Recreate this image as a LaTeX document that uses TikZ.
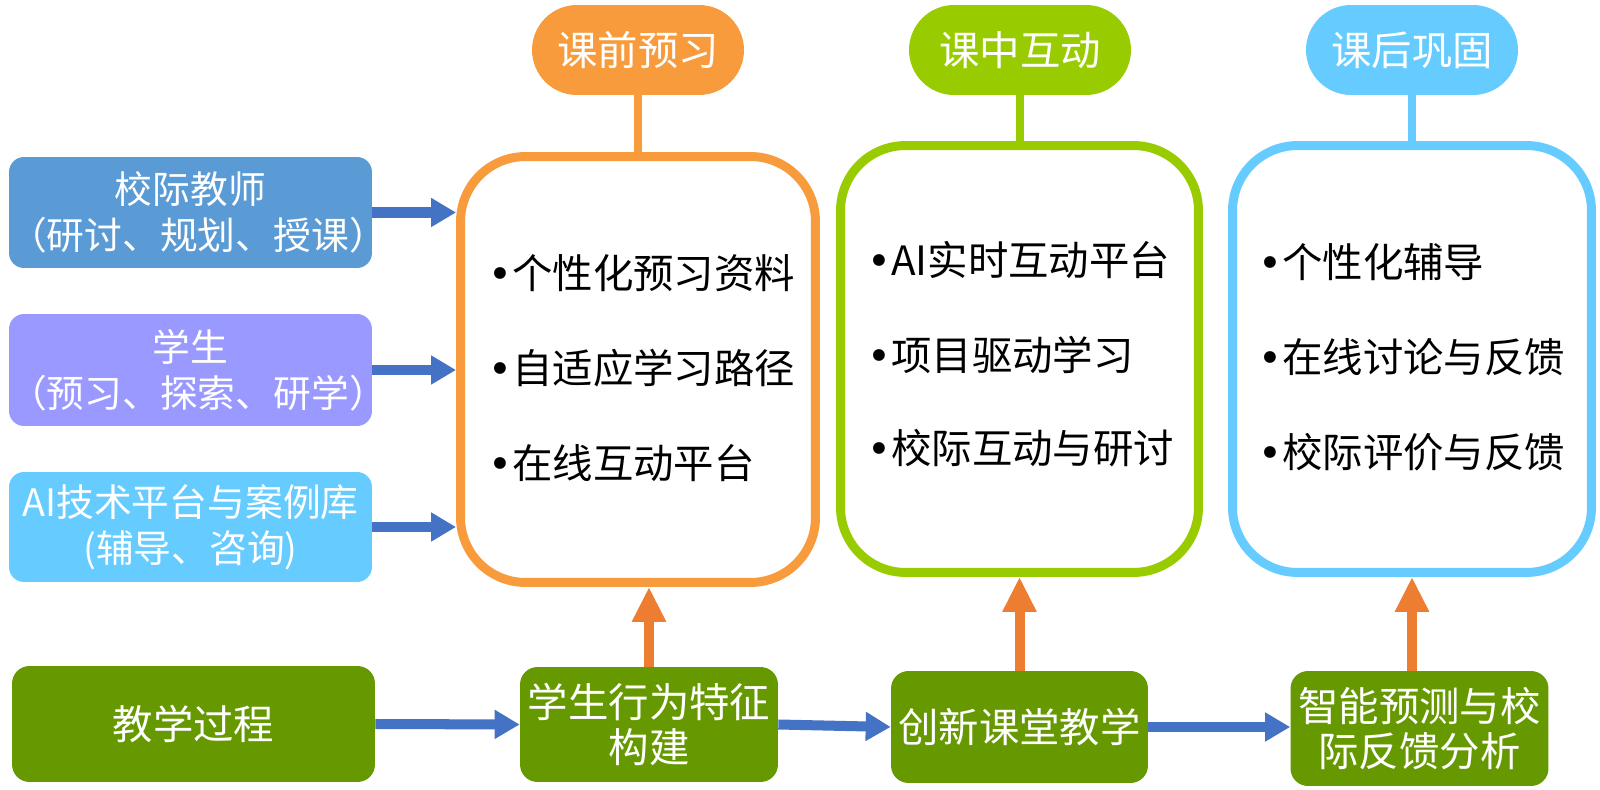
\documentclass[tikz,border=0pt]{standalone}
\usepackage{fontspec}
\newfontfamily\cjk{Noto Sans CJK SC}
\newfontfamily\dotf{DejaVu Sans}
\usetikzlibrary{arrows.meta}

\definecolor{preor}{HTML}{F89B3C}
\definecolor{midgr}{HTML}{99CC00}
\definecolor{postbl}{HTML}{66CCFF}
\definecolor{teachbl}{HTML}{5B9BD5}
\definecolor{stupu}{HTML}{9999FF}
\definecolor{aibl}{HTML}{66CCFF}
\definecolor{procgr}{HTML}{669900}
\definecolor{flowbl}{HTML}{4472C4}
\definecolor{uparr}{HTML}{ED7D31}

\newcommand{\bul}{{\dotf •}}

\begin{document}
\begin{tikzpicture}[x=0.02cm, y=-0.02cm,
    every node/.style={font=\cjk\fontsize{23}{26}\selectfont, inner sep=0pt},
    srcbox/.style={rounded corners=0.3cm, text=white, align=center, text width=7.26cm,
      font=\cjk\fontsize{21.5}{26}\selectfont},
    phase/.style={draw=#1, line width=5.1pt, rounded corners=1.3cm, fill=white},
    head/.style={fill=#1, text=white, rounded corners=0.9cm, minimum height=1.8cm},
    stage/.style={fill=procgr, text=white, rounded corners=0.35cm, align=center},
    item/.style={anchor=west, text=black},
    flow/.style={draw=flowbl, line width=5.7pt, -{Triangle[length=0.5cm, width=0.55cm]}},
    lift/.style={draw=uparr, line width=5.7pt, -{Triangle[length=0.7cm, width=0.64cm]}},
    stem/.style={draw=#1, line width=4.5pt}]
    \fill[white] (0,0) rectangle (1600,790);
    \useasboundingbox (0,0) rectangle (1600,790);

    % three phases
    \node[phase=preor, minimum width=7.1cm, minimum height=8.52cm] (pre) at (638, 369.5) {};
    \node[phase=midgr, minimum width=7.16cm, minimum height=8.54cm] (mid) at (1019.5, 359) {};
    \node[phase=postbl, minimum width=7.18cm, minimum height=8.54cm] (post) at (1412, 359) {};

    \node[head=preor, minimum width=4.24cm] (prehead) at (638, 50) {课前预习};
    \node[head=midgr, minimum width=4.44cm] (midhead) at (1020, 50) {课中互动};
    \node[head=postbl, minimum width=4.24cm] (posthead) at (1412, 50) {课后巩固};

    \draw[stem=preor] (prehead.south) -- (prehead.south |- pre.north);
    \draw[stem=midgr] (midhead.south) -- (midhead.south |- mid.north);
    \draw[stem=postbl] (posthead.south) -- (posthead.south |- post.north);

    \node[item] (pre1) at (488, 273) {\bul 个性化预习资料};
    \node[item] (pre2) at (488, 368) {\bul 自适应学习路径};
    \node[item] (pre3) at (488, 463) {\bul 在线互动平台};

    \node[item] (mid1) at (867, 260) {\bul AI实时互动平台};
    \node[item] (mid2) at (867, 355) {\bul 项目驱动学习};
    \node[item] (mid3) at (867, 448) {\bul 校际互动与研讨};

    \node[item] (post1) at (1258, 262) {\bul 个性化辅导};
    \node[item] (post2) at (1258, 357) {\bul 在线讨论与反馈};
    \node[item] (post3) at (1258, 452) {\bul 校际评价与反馈};

    % participants
    \node[srcbox, fill=teachbl, minimum height=2.22cm] (teacher) at (190.5, 212.5) {校际教师\\（研讨、规划、授课）};
    \node[srcbox, fill=stupu, minimum height=2.24cm] (student) at (190.5, 370) {学生\\（预习、探索、研学）};
    \node[srcbox, fill=aibl, minimum height=2.2cm] (aitech) at (190.5, 527) {AI技术平台与案例库\\(辅导、咨询)};

    \draw[flow] (teacher.east) -- (teacher.east -| pre.west);
    \draw[flow] (student.east) -- (student.east -| pre.west);
    \draw[flow] (aitech.east) -- (aitech.east -| pre.west);

    % teaching process
    \node[stage, minimum width=7.26cm, minimum height=2.32cm] (proc) at (193.5, 724) {教学过程};
    \node[stage, minimum width=5.16cm, minimum height=2.3cm] (behav) at (649, 724.5) {学生行为特征\\构建};
    \node[stage, minimum width=5.14cm, minimum height=2.24cm] (innov) at (1019.5, 727) {创新课堂教学};
    \node[stage, minimum width=5.16cm, minimum height=2.3cm] (predict) at (1419.5, 728.5) {智能预测与校\\际反馈分析};

    \draw[flow] (proc.east) -- (behav.west);
    \draw[flow] (behav.east) -- (innov.west);
    \draw[flow] (innov.east) -- (innov.east -| predict.west);

    \draw[lift] (behav.north) -- (behav.north |- pre.south);
    \draw[lift] (innov.north) -- (innov.north |- mid.south);
    \draw[lift] (post.south |- predict.north) -- (post.south);
  \end{tikzpicture}
\end{document}
